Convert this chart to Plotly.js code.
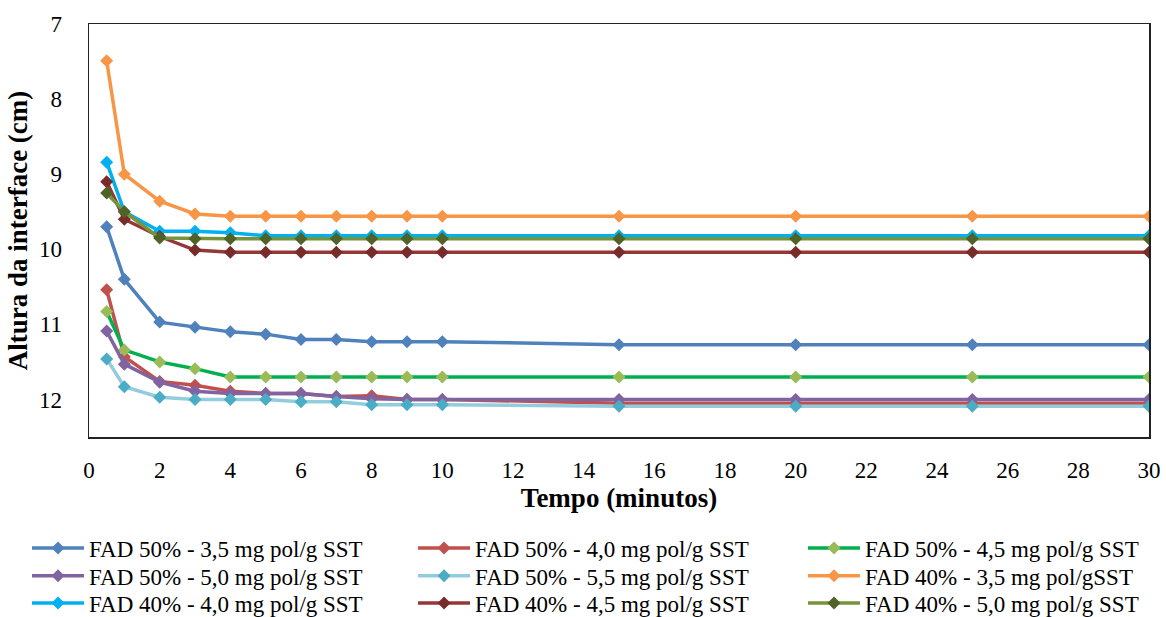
<!DOCTYPE html>
<html>
<head>
<meta charset="utf-8">
<script src="https://cdn.plot.ly/plotly-3.0.1.min.js"></script>
<style>html,body{margin:0;padding:0;background:#fff;}#chart{width:1166px;height:617px;}</style>
</head>
<body>
<div id="chart"></div>
<script>
const tempo = [0.5, 1, 2, 3, 4, 5, 6, 7, 8, 9, 10, 15, 20, 25, 30];

const names = [
  "FAD 50% - 3,5 mg pol/g SST",
  "FAD 50% - 4,0 mg pol/g SST",
  "FAD 50% - 4,5 mg pol/g SST",
  "FAD 50% - 5,0 mg pol/g SST",
  "FAD 50% - 5,5 mg pol/g SST",
  "FAD 40% - 3,5 mg pol/gSST",
  "FAD 40% - 4,0 mg pol/g SST",
  "FAD 40% - 4,5 mg pol/g SST",
  "FAD 40% - 5,0 mg pol/g SST"
];

const fad50_35 = [9.70, 10.40, 10.97, 11.04, 11.10, 11.13, 11.20, 11.20, 11.23, 11.23, 11.23, 11.27, 11.27, 11.27, 11.27];
const fad50_40 = [10.54, 11.43, 11.76, 11.81, 11.89, 11.92, 11.92, 11.96, 11.95, 12.00, 12.00, 12.05, 12.05, 12.05, 12.05];
const fad50_45 = [10.83, 11.34, 11.50, 11.59, 11.70, 11.70, 11.70, 11.70, 11.70, 11.70, 11.70, 11.70, 11.70, 11.70, 11.70];
const fad50_50 = [11.09, 11.53, 11.77, 11.89, 11.92, 11.92, 11.92, 11.96, 11.99, 12.00, 12.00, 12.00, 12.00, 12.00, 12.00];
const fad50_55 = [11.46, 11.83, 11.97, 12.00, 12.00, 12.00, 12.03, 12.03, 12.07, 12.07, 12.07, 12.09, 12.09, 12.09, 12.09];
const fad40_35 = [7.49, 9.00, 9.36, 9.53, 9.56, 9.56, 9.56, 9.56, 9.56, 9.56, 9.56, 9.56, 9.56, 9.56, 9.56];
const fad40_40 = [8.84, 9.50, 9.76, 9.76, 9.78, 9.82, 9.82, 9.82, 9.82, 9.82, 9.82, 9.82, 9.82, 9.82, 9.82];
const fad40_45 = [9.10, 9.60, 9.83, 10.01, 10.04, 10.04, 10.04, 10.04, 10.04, 10.04, 10.04, 10.04, 10.04, 10.04, 10.04];
const fad40_50 = [9.25, 9.50, 9.85, 9.86, 9.86, 9.86, 9.86, 9.86, 9.86, 9.86, 9.86, 9.86, 9.86, 9.86, 9.86];

const series = [fad50_35, fad50_40, fad50_45, fad50_50, fad50_55, fad40_35, fad40_40, fad40_45, fad40_50];
const lineColors = ["#4F81BD", "#C0504D", "#00B050", "#8064A2", "#93CDDD", "#F79646", "#00B0F0", "#953735", "#77933C"];
const markerColors = ["#4F81BD", "#C0504D", "#9BBB59", "#8064A2", "#4BACC6", "#F79646", "#00B0F0", "#772C2A", "#4F6228"];

const legendCols = [-0.0585, 0.3057, 0.6736];
const legendRows = [-0.2690, -0.3360, -0.4020];

const font = "Liberation Serif";

const traces = series.map((ys, i) => ({
  x: tempo,
  y: ys,
  name: names[i],
  type: "scatter",
  mode: "lines+markers",
  legend: i === 0 ? "legend" : "legend" + (i + 1),
  line: {color: lineColors[i], width: 3.5},
  marker: {symbol: "diamond", size: 10, color: markerColors[i]}
}));

const layout = {
  width: 1166,
  height: 617,
  margin: {l: 89, r: 17, t: 24, b: 180, autoexpand: false},
  paper_bgcolor: "#fff",
  plot_bgcolor: "#fff",
  font: {family: font, size: 23, color: "#000"},
  showlegend: true,
  xaxis: {
    range: [0, 30],
    dtick: 2,
    tick0: 0,
    showgrid: false,
    zeroline: false,
    showline: true,
    mirror: true,
    linecolor: "#222",
    linewidth: 1.5,
    ticks: "",
    ticklabelstandoff: 12,
    tickfont: {family: font, size: 23},
    title: {text: "Tempo (minutos)", font: {family: font, size: 27, weight: "bold"}, standoff: 0}
  },
  yaxis: {
    range: [12.5, 7],
    dtick: 1,
    showgrid: false,
    zeroline: false,
    showline: true,
    mirror: true,
    linecolor: "#222",
    linewidth: 1.5,
    ticks: "",
    ticklabelstandoff: 21,
    tickfont: {family: font, size: 23},
    title: {text: "Altura da interface (cm)", font: {family: font, size: 27, weight: "bold"}, standoff: 3}
  }
};

for (let i = 0; i < series.length; i++) {
  const key = i === 0 ? "legend" : "legend" + (i + 1);
  layout[key] = {
    orientation: "v",
    x: legendCols[i % 3],
    xanchor: "left",
    y: legendRows[Math.floor(i / 3)],
    yanchor: "middle",
    itemwidth: 52,
    bgcolor: "rgba(0,0,0,0)",
    font: {family: font, size: 23, color: "#000"}
  };
}

Plotly.newPlot("chart", traces, layout, {staticPlot: true, displayModeBar: false});
</script>
</body>
</html>
